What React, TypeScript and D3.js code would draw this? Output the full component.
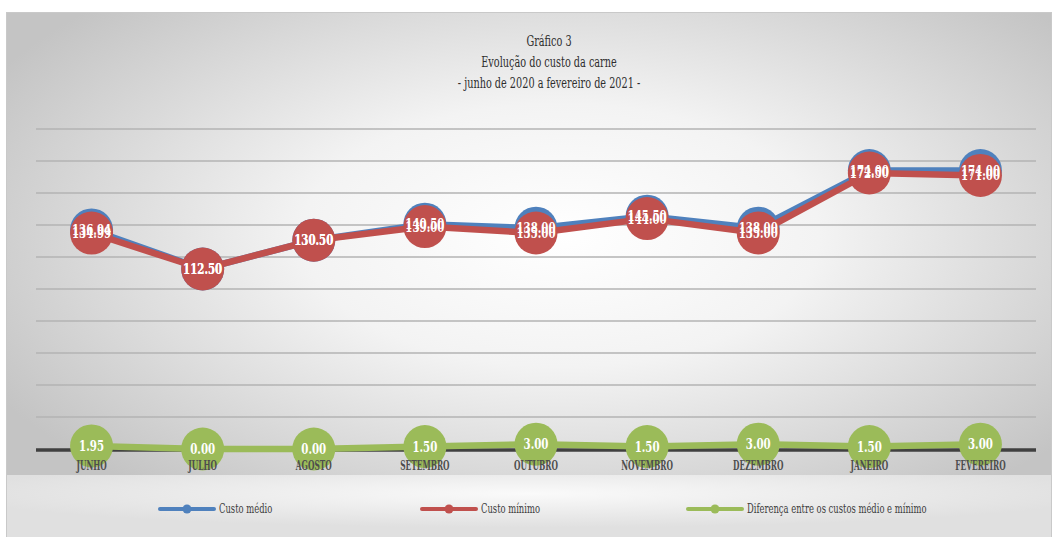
import React from "react";
import * as d3 from "d3";

const months = ["JUNHO", "JULHO", "AGOSTO", "SETEMBRO", "OUTUBRO", "NOVEMBRO", "DEZEMBRO", "JANEIRO", "FEVEREIRO"];
const custoMedio = [136.94, 112.5, 130.5, 140.5, 138.0, 145.5, 138.0, 174.0, 174.0];
const custoMinimo = [134.99, 112.5, 130.5, 139.0, 135.0, 144.0, 135.0, 172.5, 171.0];
const diferenca = [1.95, 0.0, 0.0, 1.5, 3.0, 1.5, 3.0, 1.5, 3.0];
const titleLines = ["Gráfico 3", "Evolução do custo da carne", "- junho de 2020 a fevereiro de 2021 -"];

const series = [
  { name: "Custo médio", values: custoMedio, color: "#4f81bd" },
  { name: "Custo mínimo", values: custoMinimo, color: "#c0504d" },
  { name: "Diferença entre os custos médio e mínimo", values: diferenca, color: "#9bbb59" },
];

const W = 1054;
const H = 537;
const FONT = "'DejaVu Serif', serif";

// condensed text: the reference uses a narrow display face, so squeeze horizontally
function CText(props: {
  x: number;
  y: number;
  sx: number;
  size: number;
  fill: string;
  bold?: boolean;
  anchor?: string;
  children: React.ReactNode;
}) {
  return (
    <g transform={`translate(${props.x},${props.y}) scale(${props.sx},1)`}>
      <text
        textAnchor={props.anchor ?? "middle"}
        fontSize={props.size}
        fontWeight={props.bold ? "bold" : "normal"}
        fill={props.fill}
      >
        {props.children}
      </text>
    </g>
  );
}

export default function App() {
  const x = d3.scaleBand<string>().domain(months).range([36, 1036]);
  const cx = (m: string) => (x(m) ?? 0) + x.bandwidth() / 2;
  const y = d3.scaleLinear().domain([0, 200]).range([449, 129]);
  const grid = y.ticks(10).filter((t) => t > 0);

  const line = d3
    .line<number>()
    .x((_, i) => cx(months[i]))
    .y((d) => y(d));

  const legendX = [160, 422, 688];

  return (
    <div style={{ position: "absolute", left: 0, top: 0 }}>
      <svg width={W} height={H} style={{ display: "block", fontFamily: FONT }}>
        <defs>
          <radialGradient id="bg" cx="53%" cy="42%" r="62%">
            <stop offset="0%" stopColor="#ffffff" />
            <stop offset="40%" stopColor="#f3f3f3" />
            <stop offset="100%" stopColor="#c4c4c4" />
          </radialGradient>
          <radialGradient id="leg" cx="50%" cy="30%" r="55%">
            <stop offset="0%" stopColor="#fafafa" />
            <stop offset="100%" stopColor="#e0e0e0" />
          </radialGradient>
        </defs>
        <rect x={0} y={0} width={W} height={H} fill="#ffffff" />
        <rect x={6.5} y={12.5} width={1045} height={530} fill="url(#bg)" stroke="#c9c9c9" />
        <rect x={7} y={475} width={1044} height={62} fill="url(#leg)" />

        {titleLines.map((t, i) => (
          <CText key={i} x={549} y={46 + i * 21} sx={0.67} size={14.5} fill="#2e2e2e">
            {t}
          </CText>
        ))}

        {grid.map((t) => (
          <line key={t} x1={36} x2={1036} y1={y(t)} y2={y(t)} stroke="#b3b3b3" strokeWidth={1.5} />
        ))}
        <line x1={36} x2={1036} y1={y(0) + 1} y2={y(0) + 1} stroke="#404040" strokeWidth={3.5} />

        {series.map((s) => (
          <g key={s.name}>
            <path d={line(s.values) ?? ""} fill="none" stroke={s.color} strokeWidth={6.5} strokeLinejoin="round" />
            {s.values.map((v, i) => (
              <circle key={i} cx={cx(months[i])} cy={y(v)} r={21.5} fill={s.color} />
            ))}
          </g>
        ))}
        {series.map((s) => (
          <g key={s.name + "-lab"}>
            {s.values.map((v, i) => (
              <CText key={i} x={cx(months[i])} y={y(v) + 5} sx={0.66} size={15.5} bold fill="#ffffff">
                {v.toFixed(2)}
              </CText>
            ))}
          </g>
        ))}

        {months.map((m) => (
          <CText key={m} x={cx(m)} y={470} sx={0.62} size={12} bold fill="#4d4d4d">
            {m}
          </CText>
        ))}

        {series.map((s, i) => (
          <g key={s.name + "-leg"} transform={`translate(${legendX[i]},509)`}>
            <line x1={0} x2={54} y1={0} y2={0} stroke={s.color} strokeWidth={4} strokeLinecap="round" />
            <circle cx={27} cy={0} r={4.5} fill={s.color} />
            <CText x={59} y={4} sx={0.7} size={12} anchor="start" fill="#404040">
              {s.name}
            </CText>
          </g>
        ))}
      </svg>
    </div>
  );
}
